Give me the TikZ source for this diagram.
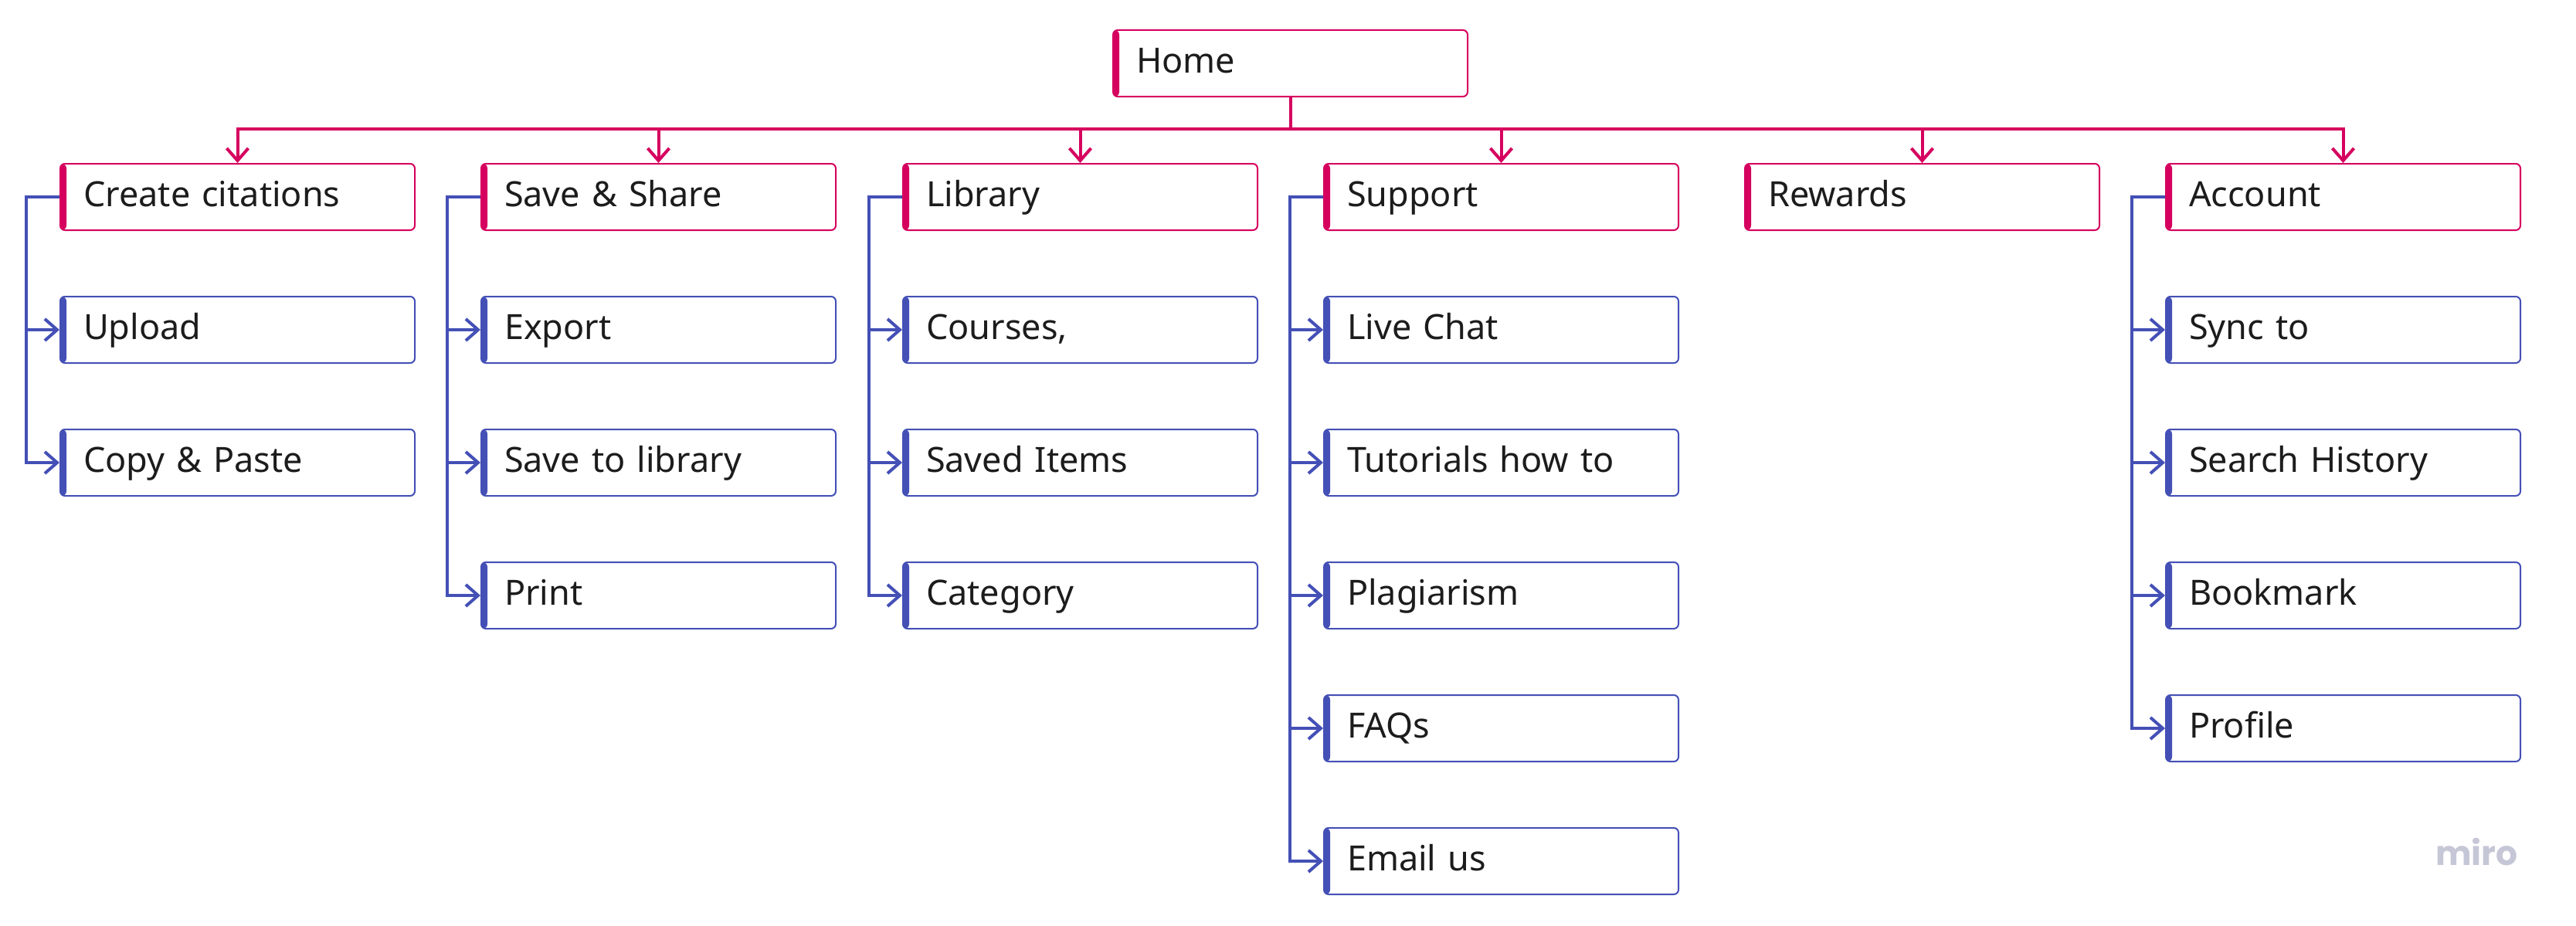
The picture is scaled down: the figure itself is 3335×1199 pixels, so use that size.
\documentclass[tikz,border=0pt]{standalone}
\usepackage{fontspec}
\setmainfont{Noto Sans}
\newfontfamily\mirofont{Poppins}
\usetikzlibrary{arrows.meta}
\definecolor{mag}{HTML}{D6005F}
\definecolor{blu}{HTML}{4450B6}
\definecolor{txt}{HTML}{1C1C1C}
\definecolor{mirogray}{HTML}{C6C7D6}
\tikzset{
  card/.style={draw=#1, line width=2pt, fill=white, rounded corners=6pt,
    anchor=north west, minimum width=459pt, minimum height=86pt,
    inner xsep=30pt, inner ysep=0pt, text width=399pt, align=left,
    text height=36pt, text depth=11pt, font=\fontsize{45}{54}\selectfont, text=txt,
    path picture={\fill[#1] (path picture bounding box.north west) rectangle ([xshift=8pt]path picture bounding box.south west);}},
  topcard/.style={card=mag},
  subcard/.style={card=blu},
  magline/.style={draw=mag, line width=4pt, -{Straight Barb[length=16pt,width=28pt]}},
  blueline/.style={draw=blu, line width=4pt, -{Straight Barb[length=16pt,width=28pt]}},
}
\begin{document}
\begin{tikzpicture}[x=1pt, y=-1pt]
\fill[white] (0,0) rectangle (3335,1199);
\useasboundingbox (0,0) rectangle (3335,1199);
% root
\node[topcard] (home) at (1440,38) {Home};
% top level
\node[topcard] (t1) at (77,211) {Create citations};
\node[topcard] (t2) at (622,211) {Save \& Share};
\node[topcard] (t3) at (1168,211) {Library};
\node[topcard] (t4) at (1713,211) {Support};
\node[topcard] (t5) at (2258,211) {Rewards};
\node[topcard] (t6) at (2803,211) {Account};
% column 1
\node[subcard] (c1a) at (77,383) {Upload};
\node[subcard] (c1b) at (77,555) {Copy \& Paste};
% column 2
\node[subcard] (c2a) at (622,383) {Export};
\node[subcard] (c2b) at (622,555) {Save to library};
\node[subcard] (c2c) at (622,727) {Print};
% column 3
\node[subcard] (c3a) at (1168,383) {Courses,};
\node[subcard] (c3b) at (1168,555) {Saved Items};
\node[subcard] (c3c) at (1168,727) {Category};
% column 4
\node[subcard] (c4a) at (1713,383) {Live Chat};
\node[subcard] (c4b) at (1713,555) {Tutorials how to};
\node[subcard] (c4c) at (1713,727) {Plagiarism};
\node[subcard] (c4d) at (1713,899) {FAQs};
\node[subcard] (c4e) at (1713,1071) {Email us};
% column 6
\node[subcard] (c6a) at (2803,383) {Sync to};
\node[subcard] (c6b) at (2803,555) {Search History};
\node[subcard] (c6c) at (2803,727) {Bookmark};
\node[subcard] (c6d) at (2803,899) {Profile};
% bus
\coordinate (bus) at (0,167);
\foreach \t in {t1,t2,t3,t4,t5,t6}
  \draw[magline] (home.south) -- (home.south |- bus) -| (\t.north);
% branches
\foreach \p/\c in {t1/c1a,t1/c1b,t2/c2a,t2/c2b,t2/c2c,t3/c3a,t3/c3b,t3/c3c,
                   t4/c4a,t4/c4b,t4/c4c,t4/c4d,t4/c4e,t6/c6a,t6/c6b,t6/c6c,t6/c6d}
  \draw[blueline] (\p.west) -- ++(-43,0) |- (\c.west);
% logo
\node[font=\mirofont\bfseries\fontsize{44}{50}\selectfont, text=mirogray, anchor=base west, inner sep=0pt] (miro) at (3153,1120) {miro};
\end{tikzpicture}
\end{document}
